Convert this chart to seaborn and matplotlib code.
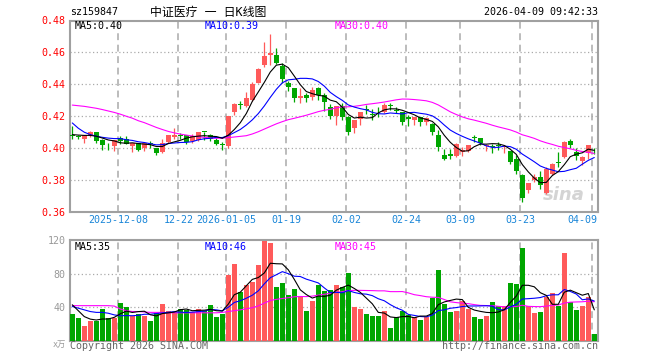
import numpy as np
import pandas as pd
import matplotlib
matplotlib.use("Agg")
import matplotlib.pyplot as plt
import matplotlib.transforms as mtransforms
import seaborn as sns

# ---------------- data ----------------
opens = [0.4085, 0.4077, 0.4060, 0.4085, 0.4100, 0.4054, 0.4015, 0.4013, 0.4065, 0.4058,
         0.4013, 0.4033, 0.4002, 0.4029, 0.4002, 0.3975, 0.4037, 0.4069, 0.4077, 0.4081,
         0.4044, 0.4050, 0.4102, 0.4085, 0.4050, 0.4023, 0.4013, 0.4229, 0.4275, 0.4266,
         0.4300, 0.4410, 0.4523, 0.4585, 0.4583, 0.4515, 0.4406, 0.4375, 0.4313, 0.4333,
         0.4323, 0.4375, 0.4333, 0.4260, 0.4204, 0.4267, 0.4198, 0.4129, 0.4181, 0.4244,
         0.4215, 0.4254, 0.4229, 0.4265, 0.4240, 0.4229, 0.4198, 0.4177, 0.4194, 0.4167,
         0.4150, 0.4083, 0.3958, 0.3965, 0.3950, 0.3975, 0.3983, 0.4065, 0.4063, 0.4012,
         0.4008, 0.4015, 0.4006, 0.3985, 0.3933, 0.3829, 0.3735, 0.3798, 0.3819, 0.3721,
         0.3840, 0.3908, 0.3944, 0.4044, 0.3975, 0.3917, 0.3971, 0.4000]
closes = [0.4075, 0.4073, 0.4080, 0.4102, 0.4044, 0.4019, 0.4012, 0.4050, 0.4044, 0.4029,
          0.4033, 0.3988, 0.4033, 0.4027, 0.3971, 0.4033, 0.4081, 0.4085, 0.4075, 0.4040,
          0.4075, 0.4102, 0.4100, 0.4058, 0.4029, 0.4020, 0.4200, 0.4277, 0.4271, 0.4317,
          0.4400, 0.4496, 0.4577, 0.4596, 0.4531, 0.4433, 0.4385, 0.4313, 0.4327, 0.4317,
          0.4365, 0.4333, 0.4288, 0.4202, 0.4267, 0.4198, 0.4100, 0.4177, 0.4229, 0.4240,
          0.4210, 0.4250, 0.4271, 0.4263, 0.4236, 0.4167, 0.4181, 0.4198, 0.4167, 0.4188,
          0.4104, 0.4010, 0.3933, 0.3948, 0.4025, 0.3990, 0.4021, 0.4063, 0.4031, 0.4021,
          0.4006, 0.4013, 0.4013, 0.3913, 0.3860, 0.3688, 0.3783, 0.3819, 0.3767, 0.3871,
          0.3902, 0.3906, 0.4038, 0.4017, 0.3950, 0.3944, 0.4021, 0.3998]
highs = [0.4138, 0.4085, 0.4085, 0.4106, 0.4102, 0.4056, 0.4033, 0.4054, 0.4079, 0.4079,
         0.4035, 0.4035, 0.4035, 0.4044, 0.4004, 0.4058, 0.4085, 0.4127, 0.4092, 0.4083,
         0.4088, 0.4104, 0.4102, 0.4088, 0.4065, 0.4038, 0.4204, 0.4283, 0.4298, 0.4350,
         0.4415, 0.4504, 0.4667, 0.4715, 0.4625, 0.4535, 0.4423, 0.4375, 0.4379, 0.4344,
         0.4381, 0.4385, 0.4344, 0.4277, 0.4267, 0.4281, 0.4200, 0.4177, 0.4229, 0.4269,
         0.4244, 0.4256, 0.4281, 0.4281, 0.4256, 0.4229, 0.4208, 0.4198, 0.4198, 0.4194,
         0.4156, 0.4115, 0.3996, 0.3996, 0.4031, 0.4010, 0.4021, 0.4083, 0.4063, 0.4025,
         0.4027, 0.4040, 0.4021, 0.3985, 0.3960, 0.3840, 0.3783, 0.3840, 0.3854, 0.3881,
         0.3908, 0.3975, 0.4042, 0.4058, 0.4000, 0.3954, 0.4021, 0.4000]
lows = [0.4060, 0.4058, 0.4033, 0.4070, 0.4035, 0.3988, 0.3988, 0.3983, 0.4029, 0.4023,
        0.3975, 0.3985, 0.3983, 0.4002, 0.3956, 0.3969, 0.4035, 0.4060, 0.4056, 0.4029,
        0.4035, 0.4048, 0.4054, 0.4042, 0.4017, 0.3990, 0.4002, 0.4208, 0.4246, 0.4258,
        0.4294, 0.4406, 0.4510, 0.4520, 0.4527, 0.4406, 0.4360, 0.4292, 0.4285, 0.4292,
        0.4302, 0.4302, 0.4235, 0.4183, 0.4146, 0.4177, 0.4083, 0.4094, 0.4144, 0.4213,
        0.4177, 0.4198, 0.4219, 0.4240, 0.4219, 0.4146, 0.4140, 0.4146, 0.4140, 0.4146,
        0.4083, 0.3981, 0.3923, 0.3933, 0.3946, 0.3950, 0.3979, 0.4038, 0.4017, 0.3983,
        0.3969, 0.3988, 0.3967, 0.3902, 0.3840, 0.3663, 0.3719, 0.3788, 0.3742, 0.3715,
        0.3829, 0.3883, 0.3938, 0.4000, 0.3923, 0.3892, 0.3935, 0.3965]
volumes = [32, 27, 17.6, 24, 24, 38, 27, 27.6, 45, 40,
           30, 32, 30, 24, 33, 44, 36, 35, 38, 37,
           34, 38, 36, 43, 29, 32, 79, 92, 58, 67,
           70, 90, 119, 116, 64, 69, 55, 62, 54, 36,
           48, 67, 60, 61, 66, 64, 81, 40, 38, 32,
           30, 30, 36, 15, 28, 36, 31, 28, 25, 28,
           51, 84, 44, 34, 36, 48, 38, 28, 26, 30,
           46, 42, 42, 69, 68, 110, 42, 33, 34, 52,
           57, 42, 105, 46, 37, 42, 52, 8]

# moving-average values before enough history exists
ma5_head = [0.4085, 0.4082, 0.4080, 0.4080]
ma10_head = [0.4158, 0.4125, 0.4100, 0.4085, 0.4075, 0.4068, 0.4063, 0.4060, 0.4060]
ma30_head = [0.4270, 0.4266, 0.4262, 0.4256, 0.4250, 0.4242, 0.4233, 0.4224, 0.4213, 0.4200,
             0.4188, 0.4172, 0.4160, 0.4145, 0.4130, 0.4117, 0.4105, 0.4096, 0.4088, 0.4082,
             0.4076, 0.4071, 0.4068, 0.4064, 0.4062, 0.4063, 0.4066, 0.4070, 0.4074]
vma5_head = [43, 36, 29, 26]
vma10_head = [41, 39, 37, 35, 34, 34, 33, 31, 30]
vma30_head = [42, 42, 42, 42, 42, 42, 42, 41.5, 38, 36,
              35, 35, 34.5, 34, 34, 34, 33.5, 33.5, 33.5, 33.5,
              33.5, 33.5, 33.5, 33.5, 33.5, 34, 35, 36, 37]

date_labels = ["2025-12-08", "12-22", "2026-01-05", "01-19", "02-02",
               "02-24", "03-09", "03-23", "04-09"]
date_index = [8, 18, 26, 36, 46, 56, 65, 75, 87]
price_ticks = [0.36, 0.38, 0.40, 0.42, 0.44, 0.46, 0.48]
vol_ticks = [40, 80, 120]

main_legend = ["MA5:0.40", "MA10:0.39", "MA30:0.40"]
vol_legend = ["MA5:35", "MA10:46", "MA30:45"]

# ---------------- helpers ----------------
def moving(values, n, head):
    s = pd.Series(values, dtype=float).rolling(n).mean()
    s.iloc[:len(head)] = head
    return s.values

n = len(closes)
idx = np.arange(n)
df = pd.DataFrame({
    "i": idx, "open": opens, "close": closes, "high": highs, "low": lows, "vol": volumes,
})
df["ma5"] = moving(closes, 5, ma5_head)
df["ma10"] = moving(closes, 10, ma10_head)
df["ma30"] = moving(closes, 30, ma30_head)
df["vma5"] = moving(volumes, 5, vma5_head)
df["vma10"] = moving(volumes, 10, vma10_head)
df["vma30"] = moving(volumes, 30, vma30_head)

RED = "#FF5A5A"
GREEN = "#00A600"
df["color"] = np.where(df["close"] >= df["open"], RED, GREEN)

sns.set_theme(style="white")
plt.rcParams['font.family'] = ['DejaVu Sans Mono', 'Noto Sans CJK SC']

W, H = 660, 360
fig = plt.figure(figsize=(6.6, 3.6), dpi=100)
fig.patch.set_facecolor("white")


def axes_px(x0, y0, x1, y1):
    return fig.add_axes([x0 / W, 1 - y1 / H, (x1 - x0) / W, (y1 - y0) / H])


ax = axes_px(70, 20.5, 598, 212)
axv = axes_px(70, 240, 598, 341)

XL = (-0.383, 87.617)
FS = 7.2
GRID = "#AAAAAA"
LW = 0.8

for a in (ax, axv):
    a.set_facecolor("white")
    a.set_xlim(*XL)
    for s in a.spines.values():
        s.set_color("#A0A0A0")
        s.set_linewidth(1.5)
    a.set_xticks([])
    for di in date_index:
        a.axvline(di - 0.333, color=GRID, lw=1.1, ls=(0, (4.5, 3)), zorder=1)

# ---------------- price panel ----------------
ax.set_ylim(0.36, 0.48)
for p in price_ticks[1:-1]:
    ax.axhline(p, color=GRID, lw=0.9, ls=(0, (1, 2)), zorder=1)

body_w = 0.74
for r in df.itertuples():
    ax.vlines(r.i, r.low, r.high, color=r.color, lw=0.9, zorder=3)
    h = max(abs(r.close - r.open), 0.00045)
    ax.bar(r.i, h, bottom=min(r.open, r.close), width=body_w, color=r.color,
           linewidth=0, zorder=4)

sns.lineplot(data=df, x="i", y="ma30", ax=ax, color="#FF00FF", lw=LW, zorder=5, legend=False)
sns.lineplot(data=df, x="i", y="ma10", ax=ax, color="#0000FF", lw=LW, zorder=6, legend=False)
sns.lineplot(data=df, x="i", y="ma5", ax=ax, color="black", lw=LW, zorder=7, legend=False)
ax.set_xlabel("")
ax.set_ylabel("")
ax.set_xlim(*XL)
ax.set_ylim(0.36, 0.48)
ax.set_yticks(price_ticks)
ax.set_yticklabels([f"{p:.2f}" for p in price_ticks])
ax.tick_params(axis="y", length=0, pad=3, labelcolor="#FF0000", labelsize=FS)

# date labels
trans = mtransforms.blended_transform_factory(ax.transData, ax.transAxes)
for k, (lab, di) in enumerate(zip(date_labels, date_index)):
    if k == len(date_labels) - 1:
        ax.text(XL[1] - 0.1, -0.043, lab, transform=trans, ha="right", va="center",
                color="#1A86D8", fontsize=FS)
    else:
        ax.text(di - 0.333, -0.043, lab, transform=trans, ha="center", va="center",
                color="#1A86D8", fontsize=FS)

# legend texts
for txt, x, c in zip(main_legend, [75, 205, 335], ["black", "#0000FF", "#FF00FF"]):
    fig.text(x / W, 1 - 26 / H, txt, color=c, fontsize=FS, ha="left", va="center")

# watermark
ax.text(0.975, 0.09, "sina", transform=ax.transAxes, ha="right", va="center",
        color="#D4D4D4", fontsize=13, fontweight="bold", style="italic",
        family="DejaVu Sans", zorder=2)

# ---------------- volume panel ----------------
axv.set_ylim(0, 120)
for v in vol_ticks[:-1]:
    axv.axhline(v, color=GRID, lw=0.9, ls=(0, (1, 2)), zorder=1)
axv.bar(df["i"], df["vol"], width=0.8, color=df["color"], linewidth=0, zorder=3)
sns.lineplot(data=df, x="i", y="vma30", ax=axv, color="#FF00FF", lw=LW, zorder=5, legend=False)
sns.lineplot(data=df, x="i", y="vma10", ax=axv, color="#0000FF", lw=LW, zorder=6, legend=False)
sns.lineplot(data=df, x="i", y="vma5", ax=axv, color="black", lw=LW, zorder=7, legend=False)
axv.set_xlabel("")
axv.set_ylabel("")
axv.set_xlim(*XL)
axv.set_ylim(0, 120)
axv.set_yticks(vol_ticks)
axv.set_yticklabels([str(v) for v in vol_ticks])
axv.tick_params(axis="y", length=0, pad=3, labelcolor="#999999", labelsize=FS)

for txt, x, c in zip(vol_legend, [75, 205, 335], ["black", "#0000FF", "#FF00FF"]):
    fig.text(x / W, 1 - 247 / H, txt, color=c, fontsize=FS, ha="left", va="center")

# ---------------- header / footer ----------------
fig.text(70 / W, 1 - 12 / H, "sz159847", fontsize=FS, color="black", ha="left", va="center")
fig.text(150 / W, 1 - 12 / H, "中证医疗 一 日K线图", fontsize=8.6, color="black",
         ha="left", va="center")
fig.text(598 / W, 1 - 12 / H, "2026-04-09 09:42:33", fontsize=FS, color="black",
         ha="right", va="center")
fig.text(70 / W, 1 - 346 / H, "Copyright 2026 SINA.COM", fontsize=FS, color="#666666",
         ha="left", va="center")
fig.text(598 / W, 1 - 346 / H, "http://finance.sina.com.cn", fontsize=FS, color="#666666",
         ha="right", va="center")
fig.text(66 / W, 1 - 344 / H, "x万", fontsize=6, color="#999999", ha="right", va="center")

fig.savefig("out.png", dpi=100, facecolor="white")
